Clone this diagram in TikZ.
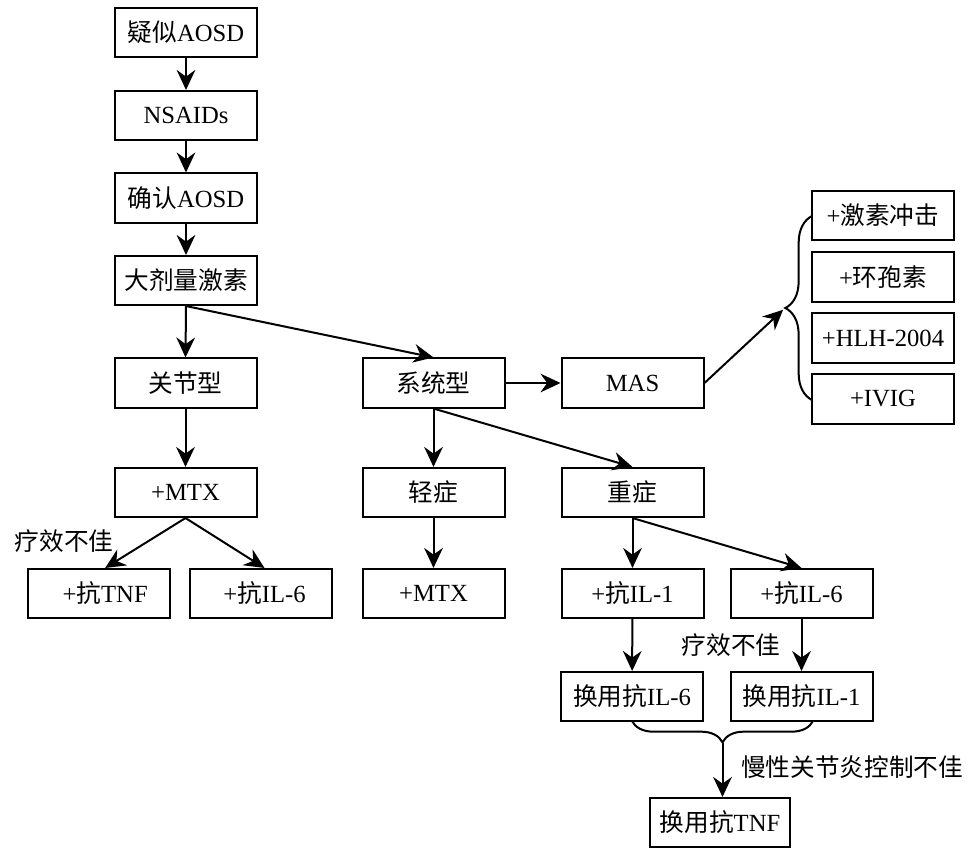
\documentclass[tikz,border=0pt]{standalone}
\usepackage{fontspec}
\setmainfont{Liberation Serif}
\newfontfamily\cjk{Noto Sans CJK SC}
\usetikzlibrary{arrows.meta,decorations.pathreplacing}
\begin{document}
\begin{tikzpicture}[x=0.75pt,y=-0.75pt,
  box/.style={draw,line width=1.5pt,minimum width=106.5pt,minimum height=36.8pt,inner sep=0pt,font=\fontsize{18.5}{20}\selectfont},
  lbl/.style={inner sep=0pt,font=\fontsize{18.5}{20}\selectfont},
  arr/.style={line width=1.5pt,-{Stealth[length=15pt,width=14pt,inset=5pt]}},
  ln/.style={line width=1.5pt}]
\useasboundingbox (0,0) rectangle (978,860);
\node[box] (a1) at (186,32.5) {{\cjk 疑似}AOSD};
\node[box] (a2) at (186,115.5) {NSAIDs};
\node[box] (a3) at (186,198) {{\cjk 确认}AOSD};
\node[box] (a4) at (186,280.5) {\cjk 大剂量激素};
\node[box] (j) at (185.5,383) {\cjk 关节型};
\node[box] (jm) at (185.5,492.5) {+MTX};
\node[box] (jt) at (98.5,593.5) {\hspace{10pt}+{\cjk 抗}TNF};
\node[box] (ji) at (260.5,593.5) {\hspace{6pt}+{\cjk 抗}IL-6};
\node[box] (s) at (433.5,383) {\cjk 系统型};
\node[box] (q) at (433.5,492.5) {\cjk 轻症};
\node[box] (qm) at (433.5,593.5) {+MTX};
\node[box] (mas) at (632.5,383) {MAS};
\node[box] (z) at (632.5,492.5) {\cjk 重症};
\node[box] (z1) at (632.5,593.5) {+{\cjk 抗}IL-1};
\node[box] (z6) at (801.5,593.5) {+{\cjk 抗}IL-6};
\node[box] (h6) at (632,696.5) {{\cjk 换用抗}IL-6};
\node[box] (h1) at (801.5,696.5) {{\cjk 换用抗}IL-1};
\node[box,minimum width=105pt] (ht) at (720,822.5) {{\cjk 换用抗}TNF};
\node[box] (r1) at (883,215.5) {+{\cjk 激素冲击}};
\node[box] (r2) at (883,277) {+{\cjk 环孢素}};
\node[box] (r3) at (883,338) {+HLH-2004};
\node[box] (r4) at (883,399) {+IVIG};
\node[lbl] (l1) at (64,541) {\cjk 疗效不佳};
\node[lbl] (l2) at (731,645) {\cjk 疗效不佳};
\node[lbl] (l3) at (852,767) {\cjk 慢性关节炎控制不佳};
% connectors
\draw[arr] (a1) -- (a2);
\draw[arr] (a2) -- (a3);
\draw[arr] (a3) -- (a4);
\draw[arr] (a4.south) -- (j.north);
\draw[arr] (a4.south) -- (s.north);
\draw[arr] (j) -- (jm);
\draw[arr] (jm.south) -- ([xshift=5pt]jt.north);
\draw[arr] (jm.south) -- ([xshift=3pt]ji.north);
\draw[arr] (s) -- (mas);
\draw[arr] (s) -- (q);
\draw[arr] (s.south) -- (z.north);
\draw[arr] (q) -- (qm);
\draw[arr] (z) -- (z1);
\draw[arr] (z.south) -- (z6.north);
\draw[arr] (z1) -- (h6);
\draw[arr] (z6) -- (h1);
% right brace
\coordinate (rb1) at (812,400);
\coordinate (rb2) at (812,216);
\coordinate (rtip) at (785,308);
\draw[ln,decorate,decoration={brace,amplitude=20pt}] (rb1) -- (rb2);
\draw[arr,shorten >=2pt] (mas.east) -- (rtip);
% bottom brace
\coordinate (bb1) at (813,721);
\coordinate (bb2) at (632,721);
\coordinate (btip) at (722.5,743);
\draw[ln,decorate,decoration={brace,amplitude=16pt}] (bb1) -- (bb2);
\draw[arr] (btip) -- (ht.north -| btip);
\end{tikzpicture}
\end{document}
